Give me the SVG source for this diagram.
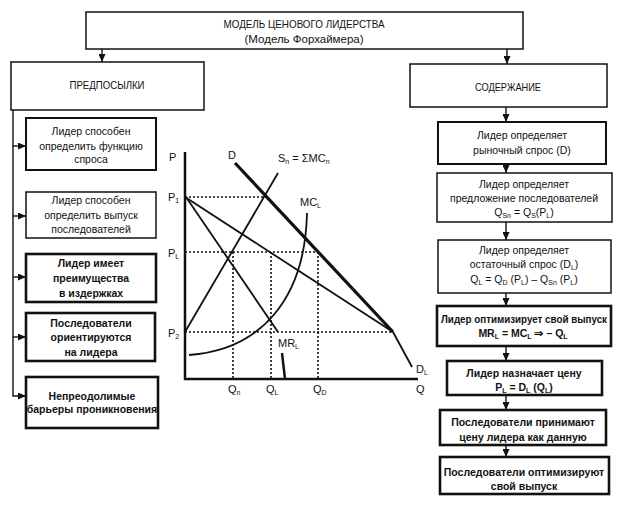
<svg xmlns="http://www.w3.org/2000/svg" width="622" height="510" viewBox="0 0 622 510">
<defs>
<style>
text{font-family:"Liberation Sans",Arial,sans-serif;fill:#111;}
.t{font-size:10.5px;text-anchor:middle;}
.b{font-size:10.5px;font-weight:bold;text-anchor:middle;}
.g{font-size:11px;}
.s{font-size:7px;}
.box{fill:#fff;stroke:#111;stroke-width:1.5;}
.bx2{fill:#fff;stroke:#111;stroke-width:2;}
.bold{fill:#fff;stroke:#111;stroke-width:2.6;}
.con{fill:none;stroke:#111;stroke-width:1.4;}
.ax{fill:none;stroke:#111;stroke-width:2.5;}
.cv{fill:none;stroke:#111;stroke-width:1.8;}
.dt{fill:none;stroke:#111;stroke-width:1.6;stroke-dasharray:2 2;}
</style>
<marker id="ah" markerUnits="userSpaceOnUse" markerWidth="8" markerHeight="7" refX="8" refY="3.5" orient="auto">
<path d="M0,0 L8,3.5 L0,7 z" fill="#111"/>
</marker>
</defs>
<rect width="622" height="510" fill="#fff"/>

<g id="connectors">
<path class="con" d="M102,49 V62" marker-end="url(#ah)"/>
<path class="con" d="M507,49 V64" marker-end="url(#ah)"/>
<path class="con" d="M13,110 V396 H26" marker-end="url(#ah)"/>
<path class="con" d="M13,146 H26" marker-end="url(#ah)"/>
<path class="con" d="M13,216 H26" marker-end="url(#ah)"/>
<path class="con" d="M13,277 H26" marker-end="url(#ah)"/>
<path class="con" d="M13,337 H26" marker-end="url(#ah)"/>
<path class="con" d="M506,107 V122" marker-end="url(#ah)"/>
<path class="con" d="M506,164 V173" marker-end="url(#ah)"/>
<path class="con" d="M506,222 V240" marker-end="url(#ah)"/>
<path class="con" d="M506,293 V306" marker-end="url(#ah)"/>
<path class="con" d="M506,346 V361" marker-end="url(#ah)"/>
<path class="con" d="M506,395 V410" marker-end="url(#ah)"/>
<path class="con" d="M506,445 V457" marker-end="url(#ah)"/>
</g>

<g id="title">
<rect class="box" x="86" y="12" width="437" height="37"/>
<text class="t" x="304" y="28" textLength="161" lengthAdjust="spacingAndGlyphs">МОДЕЛЬ ЦЕНОВОГО ЛИДЕРСТВА</text>
<text class="t" x="304" y="43" textLength="119" lengthAdjust="spacingAndGlyphs">(Модель Форхаймера)</text>
</g>

<g id="premises">
<rect class="box" x="11" y="62" width="193" height="48"/>
<text class="t" x="107" y="89" textLength="75" lengthAdjust="spacingAndGlyphs">ПРЕДПОСЫЛКИ</text>
</g>

<g id="content">
<rect class="box" x="410" y="64" width="197" height="43"/>
<text class="t" x="508" y="91" textLength="66" lengthAdjust="spacingAndGlyphs">СОДЕРЖАНИЕ</text>
</g>

<g id="L1">
<rect class="bx2" x="26" y="118" width="130" height="52"/>
<text class="t" x="91" y="135">Лидер способен</text>
<text class="t" x="91" y="150">определить функцию</text>
<text class="t" x="91" y="163">спроса</text>
</g>
<g id="L2">
<rect class="box" x="26" y="192" width="130" height="46"/>
<text class="t" x="91" y="204">Лидер способен</text>
<text class="t" x="91" y="219">определить выпуск</text>
<text class="t" x="91" y="233">последователей</text>
</g>
<g id="L3">
<rect class="bold" x="26" y="254" width="130" height="48"/>
<text class="b" x="91" y="267">Лидер имеет</text>
<text class="b" x="91" y="282">преимущества</text>
<text class="b" x="91" y="297">в издержках</text>
</g>
<g id="L4">
<rect class="bold" x="26" y="313" width="129" height="48"/>
<text class="b" x="91" y="327">Последователи</text>
<text class="b" x="91" y="341">ориентируются</text>
<text class="b" x="91" y="356">на лидера</text>
</g>
<g id="L5">
<rect class="bold" x="26" y="377" width="132" height="51"/>
<text class="b" x="92" y="400">Непреодолимые</text>
<text class="b" x="92" y="413">барьеры проникновения</text>
</g>

<g id="R1">
<rect class="bx2" x="438" y="122" width="168" height="42"/>
<text class="t" x="522" y="139">Лидер определяет</text>
<text class="t" x="522" y="154">рыночный спрос (D)</text>
</g>
<g id="R2">
<rect class="box" x="437" y="173" width="175" height="49"/>
<text class="t" x="524" y="188">Лидер определяет</text>
<text class="t" x="524" y="202">предложение последователей</text>
<text class="t" x="524" y="216">Q<tspan class="s" dy="2">Sn</tspan><tspan dy="-2"> = Q</tspan><tspan class="s" dy="2">S</tspan><tspan dy="-2">(P</tspan><tspan class="s" dy="2">L</tspan><tspan dy="-2">)</tspan></text>
</g>
<g id="R3">
<rect class="box" x="438" y="240" width="173" height="53"/>
<text class="t" x="524" y="254">Лидер определяет</text>
<text class="t" x="524" y="268">остаточный спрос (D<tspan class="s" dy="2">L</tspan><tspan dy="-2">)</tspan></text>
<text class="t" x="524" y="283">Q<tspan class="s" dy="2">L</tspan><tspan dy="-2"> = Q</tspan><tspan class="s" dy="2">D</tspan><tspan dy="-2"> (P</tspan><tspan class="s" dy="2">L</tspan><tspan dy="-2">) – Q</tspan><tspan class="s" dy="2">Sn</tspan><tspan dy="-2"> (P</tspan><tspan class="s" dy="2">L</tspan><tspan dy="-2">)</tspan></text>
</g>
<g id="R4">
<rect class="bold" x="437" y="306" width="174" height="40"/>
<text class="b" x="524" y="323" textLength="166" lengthAdjust="spacingAndGlyphs">Лидер оптимизирует свой выпуск</text>
<text class="b" x="523" y="337">MR<tspan class="s" dy="2">L</tspan><tspan dy="-2"> = MC</tspan><tspan class="s" dy="2">L</tspan><tspan dy="-2"> ⇒ – Q</tspan><tspan class="s" dy="2">L</tspan></text>
</g>
<g id="R5">
<rect class="bold" x="447" y="361" width="155" height="34"/>
<text class="b" x="524" y="377">Лидер назначает цену</text>
<text class="b" x="524" y="391">P<tspan class="s" dy="2">L</tspan><tspan dy="-2"> = D</tspan><tspan class="s" dy="2">L</tspan><tspan dy="-2"> (Q</tspan><tspan class="s" dy="2">L</tspan><tspan dy="-2">)</tspan></text>
</g>
<g id="R6">
<rect class="bold" x="440" y="410" width="166" height="35"/>
<text class="b" x="523" y="426">Последователи принимают</text>
<text class="b" x="523" y="441">цену лидера как данную</text>
</g>
<g id="R7">
<rect class="bold" x="440" y="457" width="169" height="37"/>
<text class="b" x="524" y="476">Последователи оптимизируют</text>
<text class="b" x="524" y="490">свой выпуск</text>
</g>

<g id="graph">
<path class="dt" d="M185,197 H265 M185,252 H317 M185,332 H393 M233,252 V379 M271,252 V379 M318,252 V379"/>
<path class="cv" d="M185,332 L278,173"/>
<path class="cv" d="M185,197 L393,332"/>
<path class="cv" d="M186,197 L278,332"/>
<path fill="none" stroke="#111" stroke-width="2.5" d="M282,353 L285,379"/>
<path class="cv" d="M189,355 C260,350 305,300 307,213"/>
<path fill="none" stroke="#111" stroke-width="3.2" d="M235,163 L393,332"/>
<path class="cv" d="M393,332 L412,367"/>
<path class="ax" d="M185,152 V379 H418"/>
<text class="g" x="169" y="161">P</text>
<text class="g" x="168" y="201">P<tspan class="s" dy="2">1</tspan></text>
<text class="g" x="168" y="257">P<tspan class="s" dy="2">L</tspan></text>
<text class="g" x="168" y="337">P<tspan class="s" dy="2">2</tspan></text>
<text class="g" x="228" y="159">D</text>
<text class="g" x="278" y="162">S<tspan class="s" dy="2">n</tspan><tspan dy="-2"> = ΣMC</tspan><tspan class="s" dy="2">n</tspan></text>
<text class="g" x="300" y="206">MC<tspan class="s" dy="2">L</tspan></text>
<text class="g" x="278" y="347">MR<tspan class="s" dy="2">L</tspan></text>
<text class="g" x="416" y="373">D<tspan class="s" dy="2">L</tspan></text>
<text class="g" x="416" y="393">Q</text>
<text class="g" x="228" y="393">Q<tspan class="s" dy="2">n</tspan></text>
<text class="g" x="266" y="393">Q<tspan class="s" dy="2">L</tspan></text>
<text class="g" x="313" y="393">Q<tspan class="s" dy="2">D</tspan></text>
</g>
</svg>
